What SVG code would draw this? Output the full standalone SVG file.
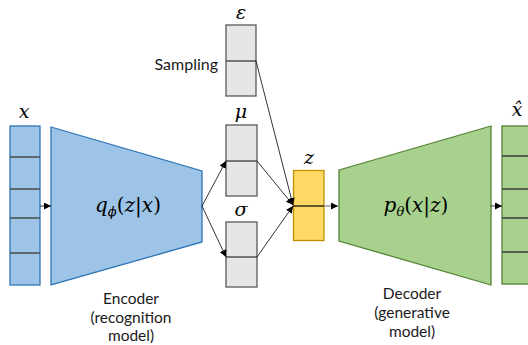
<svg xmlns="http://www.w3.org/2000/svg" width="528" height="345" viewBox="0 0 528 345">
<defs>
<marker id="ah" viewBox="0 0 10 10" refX="10" refY="5" markerWidth="7" markerHeight="7" markerUnits="userSpaceOnUse" orient="auto"><path d="M0,0 L10,5 L0,10 z" fill="#000"/></marker>
<style>
.blue{fill:#9DC3E6;stroke:#2E75B6;stroke-width:1.3}
.green{fill:#A9D18E;stroke:#548235;stroke-width:1.3}
.gray{fill:#E7E6E6;stroke:#595959;stroke-width:1.3}
.yellow{fill:#FFD966;stroke:#BF9000;stroke-width:1.3}
.sep{stroke:#3a3a3a;stroke-width:1.3}
.conn{stroke:#000;stroke-width:0.8;fill:none;marker-end:url(#ah)}
.math{font-family:"DejaVu Serif",serif;font-style:italic;fill:#000}
.lbl{font-family:Lato,"Liberation Sans",sans-serif;font-size:15.5px;fill:#1a1a1a;text-anchor:middle}
</style>
</defs>
<g id="x-input">
<rect class="blue" x="10" y="126" width="30" height="159"/>
<line class="sep" x1="10" y1="157" x2="40" y2="157"/>
<line class="sep" x1="10" y1="189" x2="40" y2="189"/>
<line class="sep" x1="10" y1="218" x2="40" y2="218"/>
<line class="sep" x1="10" y1="253" x2="40" y2="253"/>
<text class="math" x="24" y="118" font-size="19" text-anchor="middle">x</text>
</g>
<g id="encoder">
<polygon class="blue" points="51,127 202,171 202,242 51,285"/>
<text class="math" x="128" y="212" font-size="20" text-anchor="middle">q<tspan font-size="13" dy="4">ϕ</tspan><tspan dy="-4" font-style="normal">(</tspan>z<tspan font-style="normal">|</tspan>x<tspan font-style="normal">)</tspan></text>
<text class="lbl" x="131" y="304">Encoder</text>
<text class="lbl" x="131" y="322.6">(recognition</text>
<text class="lbl" x="131" y="341">model)</text>
</g>
<g id="epsilon">
<rect class="gray" x="226" y="25" width="30" height="71"/>
<line class="sep" x1="226" y1="61" x2="256" y2="61"/>
<text class="math" x="241" y="19" font-size="19" text-anchor="middle">ε</text>
<text class="lbl" x="218" y="70" style="text-anchor:end;font-size:16px">Sampling</text>
</g>
<g id="mu">
<rect class="gray" x="226" y="125" width="31" height="71"/>
<line class="sep" x1="226" y1="161" x2="257" y2="161"/>
<text class="math" x="241" y="118" font-size="19" text-anchor="middle">μ</text>
</g>
<g id="sigma">
<rect class="gray" x="226" y="222" width="31" height="65"/>
<line class="sep" x1="226" y1="257" x2="257" y2="257"/>
<text class="math" x="241" y="216" font-size="19" text-anchor="middle">σ</text>
</g>
<g id="z">
<rect class="yellow" x="293.5" y="170.5" width="30.5" height="70"/>
<text class="math" x="309" y="164" font-size="19" text-anchor="middle">z</text>
</g>
<g id="decoder">
<polygon class="green" points="339,170 491,126 491,285 339,241"/>
<text class="math" x="416" y="212" font-size="20" text-anchor="middle">p<tspan font-size="13" dy="4">θ</tspan><tspan dy="-4" font-style="normal">(</tspan>x<tspan font-style="normal">|</tspan>z<tspan font-style="normal">)</tspan></text>
<text class="lbl" x="412" y="299">Decoder</text>
<text class="lbl" x="412" y="318">(generative</text>
<text class="lbl" x="412" y="337">model)</text>
</g>
<g id="x-hat">
<rect class="green" x="502" y="126" width="34" height="158"/>
<line class="sep" x1="502" y1="156" x2="536" y2="156"/>
<line class="sep" x1="502" y1="189" x2="536" y2="189"/>
<line class="sep" x1="502" y1="218" x2="536" y2="218"/>
<line class="sep" x1="502" y1="252" x2="536" y2="252"/>
<text class="math" x="517" y="116" font-size="19" text-anchor="middle">x̂</text>
</g>
<g id="connectors">
<line class="conn" x1="40" y1="206" x2="51" y2="206"/>
<line class="conn" x1="202" y1="206" x2="226" y2="161"/>
<line class="conn" x1="202" y1="206" x2="226" y2="257"/>
<line class="conn" x1="256" y1="61" x2="293" y2="205"/>
<line class="conn" x1="257" y1="161" x2="293" y2="205"/>
<line class="conn" x1="257" y1="257" x2="293" y2="206"/>
<line x1="293" y1="206" x2="324" y2="206" stroke="#000" stroke-width="1.2"/>
<line x1="324" y1="206" x2="338" y2="206" stroke="#999" stroke-width="1.5" marker-end="url(#ah)"/>
<line class="conn" x1="491" y1="206" x2="502" y2="206"/>
</g>
</svg>
